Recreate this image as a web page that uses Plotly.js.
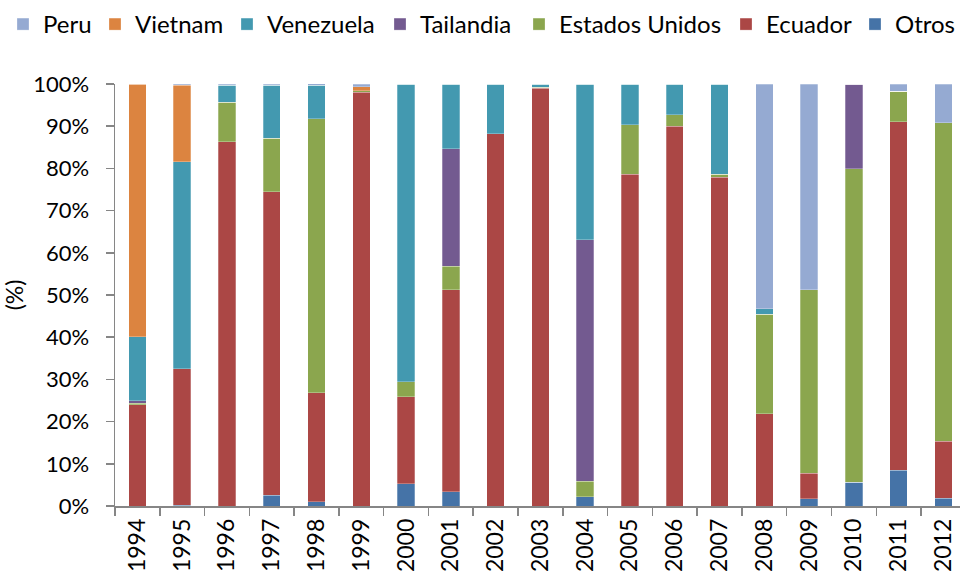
<!DOCTYPE html>
<html>
<head>
<meta charset="utf-8">
<script src="https://cdn.plot.ly/plotly-3.0.1.min.js"></script>
<style>
  html, body { margin: 0; padding: 0; overflow: hidden; background: #fff; }
  #chart { width: 960px; height: 574px; }
</style>
</head>
<body>
<div id="chart"></div>
<script>
// Categories (years)
const years = ['1994','1995','1996','1997','1998','1999','2000','2001','2002','2003',
               '2004','2005','2006','2007','2008','2009','2010','2011','2012'];

// Series values (% share), bottom to top of each stack
const otros         = [0, 0.2, 0, 2.6, 0.95, 0, 5.3, 3.4, 0, 0, 2.2, 0, 0, 0, 0, 1.7, 5.6, 8.5, 1.8];
const ecuador       = [24.0, 32.3, 86.3, 71.9, 25.9, 98.1, 20.6, 47.8, 88.2, 99.0, 0, 78.6, 90.0, 77.9, 21.9, 6.1, 0, 82.5, 13.5];
const estadosUnidos = [0.4, 0, 9.4, 12.7, 64.9, 0.3, 3.6, 5.6, 0, 0.2, 3.65, 11.7, 2.7, 0.7, 23.5, 43.5, 74.3, 7.3, 75.5];
const tailandia     = [0.6, 0, 0, 0, 0, 0, 0, 27.9, 0, 0, 57.25, 0, 0, 0, 0, 0, 20.1, 0, 0];
const venezuela     = [15.1, 49.1, 4.0, 12.5, 8.0, 0, 70.5, 15.3, 11.8, 0.8, 36.9, 9.7, 7.3, 21.4, 1.4, 0, 0, 0, 0];
const vietnam       = [59.9, 18.1, 0, 0, 0, 1.0, 0, 0, 0, 0, 0, 0, 0, 0, 0, 0, 0, 0, 0];
const peru          = [0, 0.3, 0.3, 0.3, 0.3, 0.6, 0, 0, 0, 0, 0, 0, 0, 0, 53.2, 48.7, 0, 1.7, 9.2];

const seriesNames  = ['Otros', 'Ecuador', 'Estados Unidos', 'Tailandia', 'Venezuela', 'Vietnam', 'Peru'];
const seriesValues = [otros, ecuador, estadosUnidos, tailandia, venezuela, vietnam, peru];
const seriesColors = ['#4573A7', '#AB4745', '#8BA64E', '#735A90', '#4399B0', '#DC8440', '#95AAD2'];
// legend entry text start (px from left), one legend per series
const legendTextX  = [893, 764, 557, 418, 265, 133, 41];

const FONT = 'Lato, "Open Sans", "DejaVu Sans", sans-serif';

const traces = seriesNames.map((name, i) => ({
  type: 'bar',
  name: name,
  x: years,
  y: seriesValues[i],
  legend: i === 0 ? 'legend' : 'legend' + (i + 1),
  marker: { color: seriesColors[i], line: { color: 'rgba(255,255,255,0.45)', width: 0.6 } },
  hoverinfo: 'name+x+y'
}));

const layout = {
  width: 960,
  height: 574,
  margin: { l: 115, r: 0, t: 84, b: 68 },
  paper_bgcolor: '#ffffff',
  plot_bgcolor: '#ffffff',
  barmode: 'stack',
  bargap: 0.61,
  font: { family: FONT, size: 22, color: '#000000' },
  showlegend: true,
  xaxis: {
    type: 'category',
    range: [-0.5, 18.37],
    showline: true,
    linecolor: '#868686',
    linewidth: 1.5,
    ticks: 'outside',
    tickson: 'boundaries',
    ticklen: 8,
    tickcolor: '#868686',
    tickwidth: 1.5,
    tickangle: -90,
    ticklabelstandoff: 2,
    showgrid: false,
    zeroline: false,
    tickfont: { family: FONT, size: 23, color: '#000' }
  },
  yaxis: {
    range: [0, 100],
    dtick: 10,
    ticksuffix: '%',
    showline: true,
    linecolor: '#868686',
    linewidth: 1.5,
    ticks: 'outside',
    ticklen: 8,
    tickcolor: '#868686',
    tickwidth: 1.5,
    ticklabelstandoff: 12,
    showgrid: false,
    zeroline: false,
    tickfont: { family: FONT, size: 22, color: '#000' },
    title: { text: '(%)', standoff: 6, font: { family: FONT, size: 23, color: '#000' } }
  }
};

seriesNames.forEach((name, i) => {
  const key = i === 0 ? 'legend' : 'legend' + (i + 1);
  layout[key] = {
    orientation: 'h',
    xref: 'container', yref: 'container',
    x: (legendTextX[i] - 38) / 960, xanchor: 'left',
    y: 1 - 2 / 574, yanchor: 'top',
    bgcolor: 'rgba(0,0,0,0)',
    font: { family: FONT, size: 24, color: '#000' },
    itemclick: false
  };
});

Plotly.newPlot('chart', traces, layout, { displayModeBar: false, staticPlot: true });
</script>
</body>
</html>
